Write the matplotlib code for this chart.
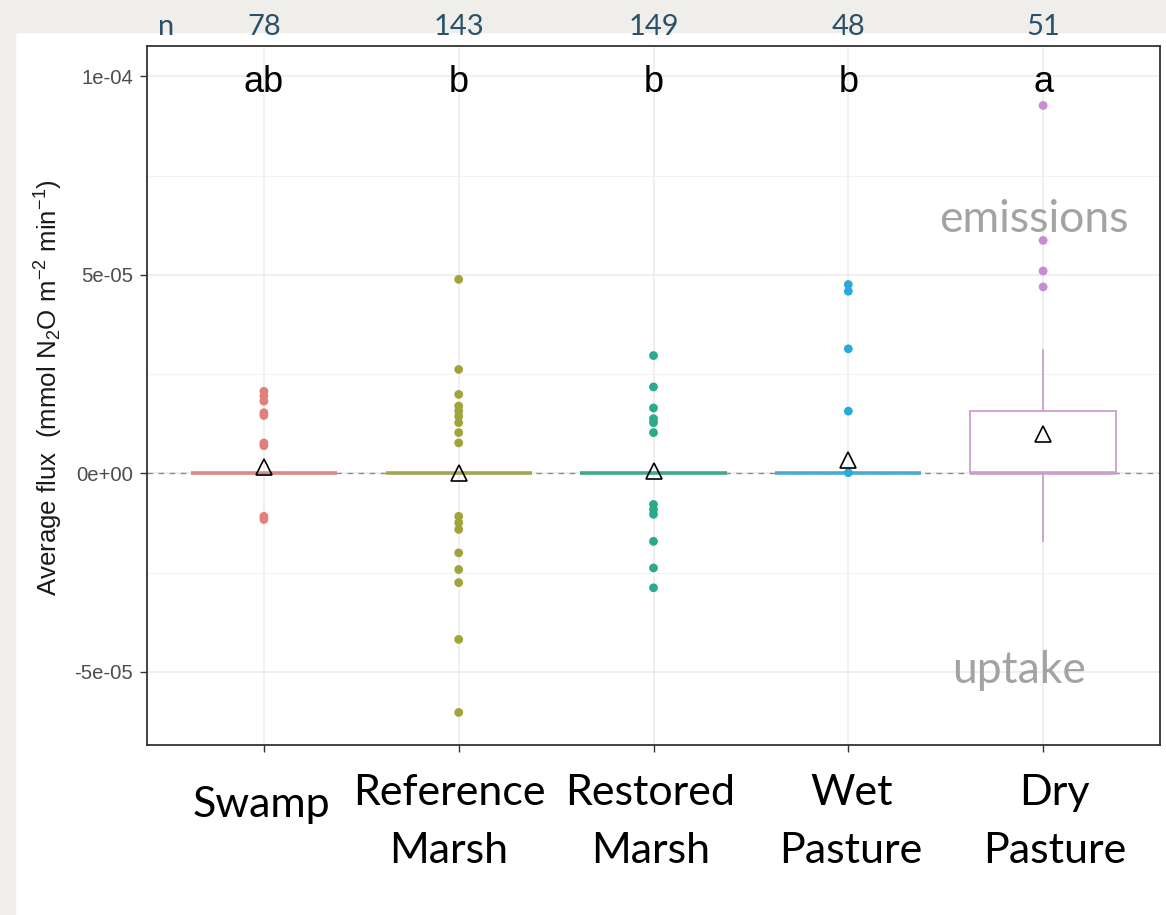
import matplotlib
matplotlib.use('Agg')
import matplotlib.pyplot as plt
import matplotlib.transforms as mtrans
from matplotlib.patches import Rectangle

plt.rcParams['font.family'] = ['Liberation Sans', 'DejaVu Sans']
plt.rcParams['mathtext.fontset'] = 'custom'
plt.rcParams['mathtext.rm'] = 'Liberation Sans'
plt.rcParams['mathtext.it'] = 'Liberation Sans:italic'
plt.rcParams['mathtext.bf'] = 'Liberation Sans:bold'

# ---------------- data ----------------
categories = ['Swamp', 'Reference\nMarsh', 'Restored\nMarsh', 'Wet\nPasture', 'Dry\nPasture']
n_obs = [78, 143, 149, 48, 51]
letters = ['ab', 'b', 'b', 'b', 'a']

q1 = [0.0, 0.0, 0.0, 0.0, 0.0]
medians = [0.0, 0.0, 0.0, 0.0, 0.0]
q3 = [0.0, 0.0, 0.0, 0.0, 1.57e-5]
whisk_lo = [0.0, 0.0, 0.0, 0.0, -1.71e-5]
whisk_hi = [0.0, 0.0, 0.0, 0.0, 3.12e-5]
means = [1.7e-6, 0.2e-6, 0.5e-6, 3.3e-6, 1.0e-5]

out_swamp = [2.07e-5, 1.95e-5, 1.82e-5, 1.53e-5, 1.46e-5, 7.7e-6, 7.0e-6, -1.08e-5, -1.16e-5]
out_refmarsh = [4.89e-5, 2.62e-5, 1.99e-5, 1.70e-5, 1.57e-5, 1.44e-5, 1.28e-5, 1.03e-5, 7.7e-6,
                -1.08e-5, -1.24e-5, -1.41e-5, -2.00e-5, -2.42e-5, -2.75e-5, -4.18e-5, -6.02e-5]
out_resmarsh = [2.97e-5, 2.18e-5, 1.65e-5, 1.38e-5, 1.28e-5, 1.03e-5,
                -7.8e-6, -9.1e-6, -1.03e-5, -1.71e-5, -2.38e-5, -2.88e-5]
out_wet = [4.76e-5, 4.59e-5, 3.14e-5, 1.57e-5, 2e-7]
out_dry = [9.27e-5, 5.87e-5, 5.10e-5, 4.70e-5]
outliers = [out_swamp, out_refmarsh, out_resmarsh, out_wet, out_dry]

point_colors = ['#E07F7B', '#A0A43A', '#2AA98B', '#2BA9DD', '#C98AD6']
box_colors = ['#D98A87', '#A3A650', '#3FA98F', '#4AAAD6', '#C9A0CD']

# ---------------- figure ----------------
W, H = 1166, 915
fig = plt.figure(figsize=(W / 100, H / 100), dpi=100)
fig.patch.set_facecolor('white')
fig.add_artist(Rectangle((0, 1 - 32 / H), 1, 32 / H, transform=fig.transFigure,
                         color='#EFEEEA', zorder=0))
fig.add_artist(Rectangle((0, 0), 15 / W, 1, transform=fig.transFigure,
                         color='#EFEEEA', zorder=0))

ax = fig.add_axes([147 / W, 1 - 745 / H, (1160 - 147) / W, (745 - 46) / H])
positions = list(range(1, len(categories) + 1))
ax.set_xlim(0.4, 5.6)
ax.set_ylim(-6.84e-5, 1.0768e-4)

ax.set_yticks([-5e-5, 0, 5e-5, 1e-4])
ax.set_yticklabels(['-5e-05', '0e+00', '5e-05', '1e-04'])
ax.set_yticks([-2.5e-5, 2.5e-5, 7.5e-5], minor=True)
ax.set_xticks(positions)
ax.set_xticklabels([])
ax.grid(which='major', color='#EBEBEB', lw=1.1)
ax.grid(which='minor', axis='y', color='#F2F2F2', lw=0.7)
ax.set_axisbelow(True)
ax.tick_params(axis='y', which='major', labelsize=14.6, labelcolor='#4D4D4D',
               length=5, color='#333333', width=1, pad=5)
ax.tick_params(axis='y', which='minor', length=0)
ax.tick_params(axis='x', length=5, color='#333333', width=1)
for sp in ax.spines.values():
    sp.set_color('#333333')
    sp.set_linewidth(1.3)

# zero reference line
ax.axhline(0, color='#8C8C8C', ls=(0, (4, 4)), lw=1.0, zorder=1.5)

# boxes
stats = []
for i in range(len(categories)):
    stats.append(dict(med=medians[i], q1=q1[i], q3=q3[i],
                      whislo=whisk_lo[i], whishi=whisk_hi[i], fliers=[]))
bp = ax.bxp(stats, positions=positions, widths=0.75, showfliers=False, showcaps=False,
            patch_artist=True, manage_ticks=False, zorder=2)
for i, c in enumerate(box_colors):
    bp['boxes'][i].set_facecolor('white')
    bp['boxes'][i].set_edgecolor(c)
    bp['boxes'][i].set_linewidth(1.3)
    bp['medians'][i].set_color(c)
    bp['medians'][i].set_linewidth(2.6)
    for w in bp['whiskers'][2 * i:2 * i + 2]:
        w.set_color(c)
        w.set_linewidth(1.3)

# outlier points
for i, vals in enumerate(outliers):
    ax.scatter([positions[i]] * len(vals), vals, s=40, color=point_colors[i],
               edgecolors='none', zorder=3)

# means
ax.plot(positions, means, ls='none', marker='^', markersize=12, markerfacecolor='none',
        markeredgecolor='black', markeredgewidth=1.2, zorder=4)

# significance letters
for p, l in zip(positions, letters):
    ax.text(p, 9.62e-5, l, ha='center', va='baseline', fontsize=26, color='black', zorder=5)

# n row
trans_top = mtrans.blended_transform_factory(ax.transData, fig.transFigure)
ax.text(0.5, 1 - 35 / H, 'n', transform=trans_top, ha='center', va='baseline',
        fontsize=21, family='Lato', color='#2B5169', clip_on=False)
for p, n in zip(positions, n_obs):
    ax.text(p, 1 - 35 / H, str(n), transform=trans_top, ha='center', va='baseline',
            fontsize=21, family='Lato', color='#2B5169', clip_on=False)

# category labels (small horizontal nudges as in the original slide)
label_nudge = [-0.015, -0.05, -0.015, 0.015, 0.06]
for p, lab, dx in zip(positions, categories, label_nudge):
    lines = lab.split('\n')
    if len(lines) == 1:
        ax.text(p + dx, 1 - 817 / H, lines[0], transform=trans_top, ha='center',
                va='baseline', fontsize=31, family='Lato', color='black', clip_on=False)
    else:
        ax.text(p + dx, 1 - 805 / H, lines[0], transform=trans_top, ha='center',
                va='baseline', fontsize=31, family='Lato', color='black', clip_on=False)
        ax.text(p + dx, 1 - 863 / H, lines[1], transform=trans_top, ha='center',
                va='baseline', fontsize=31, family='Lato', color='black', clip_on=False)

# emissions / uptake
ax.text(4.95, 6.08e-5, 'emissions', ha='center', va='baseline', fontsize=32,
        family='Lato', color='#A3A3A3', zorder=5)
ax.text(4.877, -5.28e-5, 'uptake', ha='center', va='baseline', fontsize=32,
        family='Lato', color='#A3A3A3', zorder=5)

# y label
ax.set_ylabel('Average flux  (mmol N$_2$O m$^{-2}$ min$^{-1}$)', fontsize=18.6,
              color='#1A1A1A', va='center')
ax.yaxis.set_label_coords((49 - 147) / 1013, (745 - 388) / 699)

fig.savefig('out.png', dpi=100, facecolor=fig.get_facecolor())
